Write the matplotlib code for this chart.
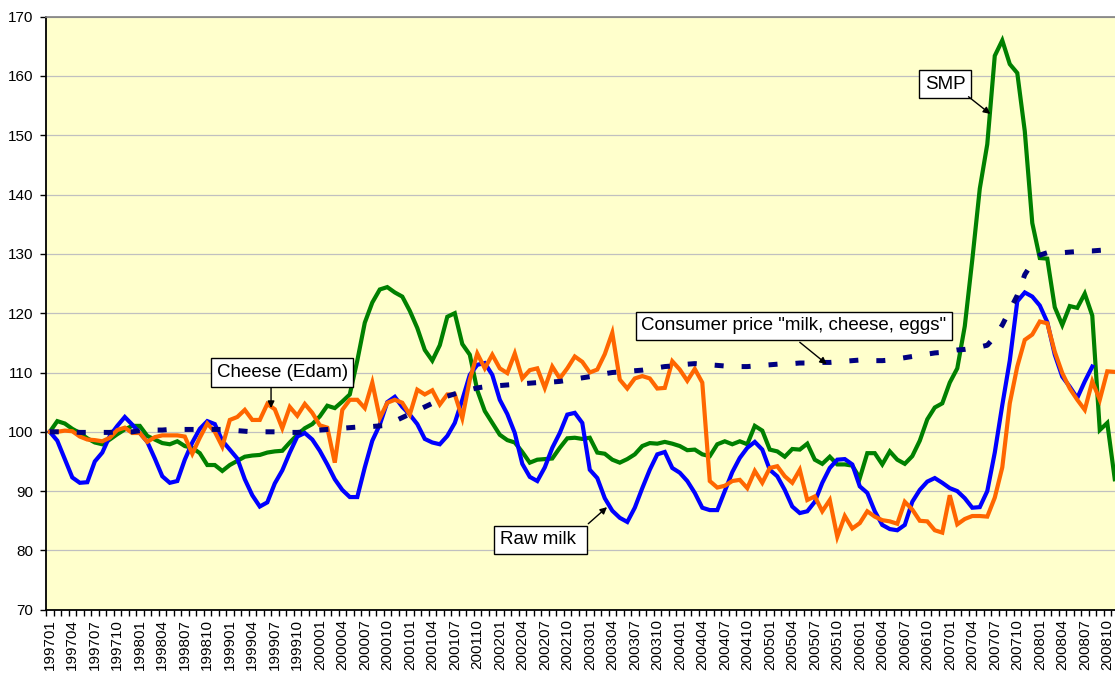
import matplotlib
matplotlib.use("Agg")
import matplotlib.pyplot as plt
from matplotlib.ticker import FixedLocator

plt.rcParams['font.family'] = ['Liberation Sans', 'DejaVu Sans']

# monthly categories 199701 .. 200811
months = [f"{y}{m:02d}" for y in range(1997, 2009) for m in range(1, 13)][:143]

raw_milk = [
    100, 98.5, 95.4, 92.3, 91.4, 91.5, 95, 96.5, 99.3, 101, 102.5, 101.2,
    99.8, 98.3, 95.5, 92.5, 91.4, 91.7, 95.3, 98.2, 100.5, 101.8, 101.3, 98.5,
    97, 95.5, 92, 89.3, 87.4, 88.1, 91.3, 93.5, 96.5, 99.2, 99.8, 98.7,
    96.8, 94.5, 92, 90.2, 89, 89, 94, 98.5, 101.2, 105, 105.9, 104.2,
    102.9, 101.3, 98.8, 98.2, 97.9, 99.3, 101.5, 105.4, 109.6, 111.3, 111.6, 109.6,
    105.4, 103, 99.8, 94.6, 92.4, 91.7, 94, 97.3, 99.8, 102.9, 103.2, 101.5,
    93.6, 92.2, 88.8, 86.7, 85.5, 84.8, 87.2, 90.5, 93.6, 96.2, 96.6, 93.9,
    93.1, 91.7, 89.7, 87.2, 86.8, 86.8, 90, 93.2, 95.6, 97.3, 98.3, 97,
    93.6, 92.5, 90.2, 87.4, 86.3, 86.6, 88.2, 91.4, 93.9, 95.3, 95.4, 94.5,
    90.8, 89.7, 86.6, 84.3, 83.6, 83.4, 84.3, 88.2, 90.2, 91.6, 92.2, 91.4,
    90.5, 90, 88.8, 87.2, 87.3, 90, 96.5, 104.5, 112, 122, 123.5, 122.8,
    121.3, 118.5, 113, 109.3, 107.6, 105.7, 108.5, 111,
]

smp = [
    100, 101.8, 101.4, 100.5, 99.8, 98.9, 98.2, 97.9, 98.7, 99.6, 100.4, 101,
    101, 99.3, 98.7, 98.1, 97.9, 98.4, 97.6, 97.3, 96.4, 94.4, 94.4, 93.4,
    94.4, 95.1, 95.8, 96, 96.1, 96.5, 96.7, 96.8, 98.2, 99.5, 100.6, 101.3,
    102.6, 104.4, 104, 105.1, 106.3, 112, 118.4, 121.8, 124, 124.4, 123.5, 122.8,
    120.4, 117.5, 113.8, 112, 114.6, 119.4, 120, 114.8, 113, 107, 103.5, 101.5,
    99.5, 98.6, 98.2, 96.6, 94.8, 95.3, 95.4, 95.5, 97.3, 98.9, 99, 98.8,
    99, 96.5, 96.3, 95.3, 94.8, 95.4, 96.2, 97.6, 98.1, 98, 98.3, 98,
    97.6, 96.9, 97, 96.2, 95.9, 97.9, 98.4, 97.9, 98.4, 97.9, 101, 100.2,
    97, 96.7, 95.8, 97.1, 97, 98, 95.3, 94.6, 95.8, 94.5, 94.5, 94.3,
    92.2, 96.4, 96.4, 94.5, 96.7, 95.3, 94.6, 95.9, 98.5, 102.1, 104.1, 104.8,
    108.3, 110.7, 117.8, 129, 141, 148.5, 163.4, 166, 162, 160.5, 150.7, 135.2,
    129.3, 129.2, 121, 118, 121.2, 120.9, 123.3, 119.6, 100.3, 101.5, 92,
]

cheese = [
    100, 100, 100.2, 100.1, 99.2, 98.7, 98.6, 98.4, 99, 100.3, 100.7, 99.8,
    99.8, 98.3, 99.1, 99.4, 99.4, 99.4, 99.2, 96.3, 99, 101.4, 100, 97.5,
    102, 102.5, 103.7, 102, 102, 104.7, 103.8, 100.6, 104.2, 102.7, 104.7, 103.2,
    101.1, 100.7, 94.8, 103.7, 105.4, 105.4, 104, 108.3, 102.3, 104.9, 105.4, 104.9,
    102.9, 107.1, 106.3, 107, 104.6, 106.3, 106.3, 102.3, 108.8, 113.2, 110.7, 113,
    110.7, 109.9, 113.2, 109, 110.4, 110.7, 107.4, 111, 109, 110.7, 112.7, 111.8,
    110, 110.5, 113.1, 116.7, 108.8, 107.3, 109, 109.4, 109, 107.3, 107.4, 111.9,
    110.5, 108.6, 110.6, 108.3, 91.7, 90.6, 90.9, 91.7, 91.9, 90.5, 93.4, 91.4,
    93.9, 94.2, 92.5, 91.4, 93.6, 88.5, 89.1, 86.6, 88.5, 82.3, 85.8, 83.7,
    84.6, 86.6, 85.7, 85.1, 84.9, 84.5, 88.2, 86.9, 85, 84.9, 83.4, 83,
    89.3, 84.4, 85.3, 85.8, 85.8, 85.7, 88.9, 94, 104.8, 111, 115.5, 116.4,
    118.6, 118.3, 113.5, 109.9, 107.3, 105.4, 103.7, 108.5, 105.4, 110.2, 110.1,
]

consumer = [
    100, 100, 100, 100, 99.9, 99.9, 99.9, 99.9, 99.9, 100, 100, 100,
    100.2, 100.2, 100.3, 100.3, 100.4, 100.4, 100.4, 100.4, 100.4, 100.4, 100.4, 100.4,
    100.3, 100.2, 100.1, 100, 100, 100, 100, 100, 99.9, 99.9, 100, 100.2,
    100.3, 100.4, 100.5, 100.6, 100.7, 100.8, 100.8, 100.9, 101, 101.1, 101.8, 102.4,
    103, 103.6, 104.2, 104.8, 105.4, 106, 106.4, 106.8, 107.1, 107.4, 107.6, 107.7,
    107.8, 107.9, 108, 108.1, 108.2, 108.3, 108.4, 108.4, 108.5, 108.7, 108.9, 109.1,
    109.3, 109.6, 109.8, 110, 110.1, 110.2, 110.3, 110.4, 110.6, 110.8, 111, 111.1,
    111.3, 111.4, 111.5, 111.4, 111.3, 111.2, 111.1, 111, 111, 111, 111.1, 111.2,
    111.3, 111.4, 111.5, 111.5, 111.6, 111.6, 111.6, 111.7, 111.7, 111.8, 111.9, 112,
    112.1, 112.1, 112, 112, 112.1, 112.3, 112.5, 112.7, 112.9, 113.1, 113.3, 113.4,
    113.6, 113.8, 113.9, 114.1, 114.3, 114.6, 116, 118, 120.5, 123, 126.5, 128.5,
    129.8, 130.2, 130.2, 130.2, 130.3, 130.4, 130.5, 130.5, 130.6, 130.7,
]

fig = plt.figure(figsize=(11.15, 6.75), dpi=100)
ax = fig.add_axes([0.0413, 0.0967, 0.9587, 0.8786])
ax.set_facecolor('#FFFFCC')

ax.plot(range(len(smp)), smp, color='#008000', lw=3.0, solid_joinstyle='miter', zorder=3)
ax.plot(range(len(raw_milk)), raw_milk, color='#0000FF', lw=3.0, solid_joinstyle='miter', zorder=4)
ax.plot(range(len(cheese)), cheese, color='#FF6600', lw=3.0, solid_joinstyle='miter', zorder=5)
ax.plot(range(len(consumer)), consumer, color='#000080', lw=3.6,
        dashes=(1.8, 3.6), dash_capstyle='butt', zorder=6)

ax.set_ylim(70, 170)
ax.set_xlim(-0.5, 142.03)
ax.set_yticks(range(70, 171, 10))
ax.yaxis.grid(True, color='#C0C0C0', lw=0.9)
ax.set_axisbelow(True)

ax.xaxis.set_major_locator(FixedLocator(list(range(0, len(months), 3))))
ax.set_xticklabels(months[::3], rotation=90)
ax.xaxis.set_minor_locator(FixedLocator([i - 0.5 for i in range(len(months) + 1)]))
ax.tick_params(axis='x', which='major', length=0, pad=7, labelsize=11)
ax.tick_params(axis='x', which='minor', length=4, width=1, direction='out')
ax.tick_params(axis='y', length=4, width=1, direction='out', pad=5, labelsize=11)

for s in ['left', 'bottom']:
    ax.spines[s].set_color('black')
    ax.spines[s].set_linewidth(1.3)
ax.spines['top'].set_color('#808080')
ax.spines['top'].set_linewidth(1.2)
ax.spines['right'].set_visible(False)

box = dict(boxstyle='square,pad=0.3', fc='white', ec='black', lw=1)
arrow = dict(arrowstyle='-|>', color='black', lw=1, mutation_scale=10, shrinkA=0, shrinkB=0)

ax.text(31.0, 110.0, 'Cheese (Edam)', fontsize=13.5, ha='center', va='center', bbox=box, zorder=10)
ax.annotate('', xy=(29.5, 104.0), xytext=(29.5, 107.4), arrowprops=arrow, zorder=10)

ax.text(99.2, 117.9, 'Consumer price "milk, cheese, eggs"', fontsize=13.5, ha='center', va='center',
        bbox=box, zorder=10)
ax.annotate('', xy=(103.6, 111.4), xytext=(100.0, 115.1), arrowprops=arrow, zorder=10)

ax.text(65.4, 81.8, 'Raw milk ', fontsize=13.5, ha='center', va='center', bbox=box, zorder=10)
ax.annotate('', xy=(74.3, 87.3), xytext=(71.8, 84.5), arrowprops=arrow, zorder=10)

ax.text(119.4, 158.6, 'SMP', fontsize=13.5, ha='center', va='center', bbox=box, zorder=10)
ax.annotate('', xy=(125.4, 153.6), xytext=(122.5, 156.5), arrowprops=arrow, zorder=10)

fig.savefig('out.png', dpi=100)
